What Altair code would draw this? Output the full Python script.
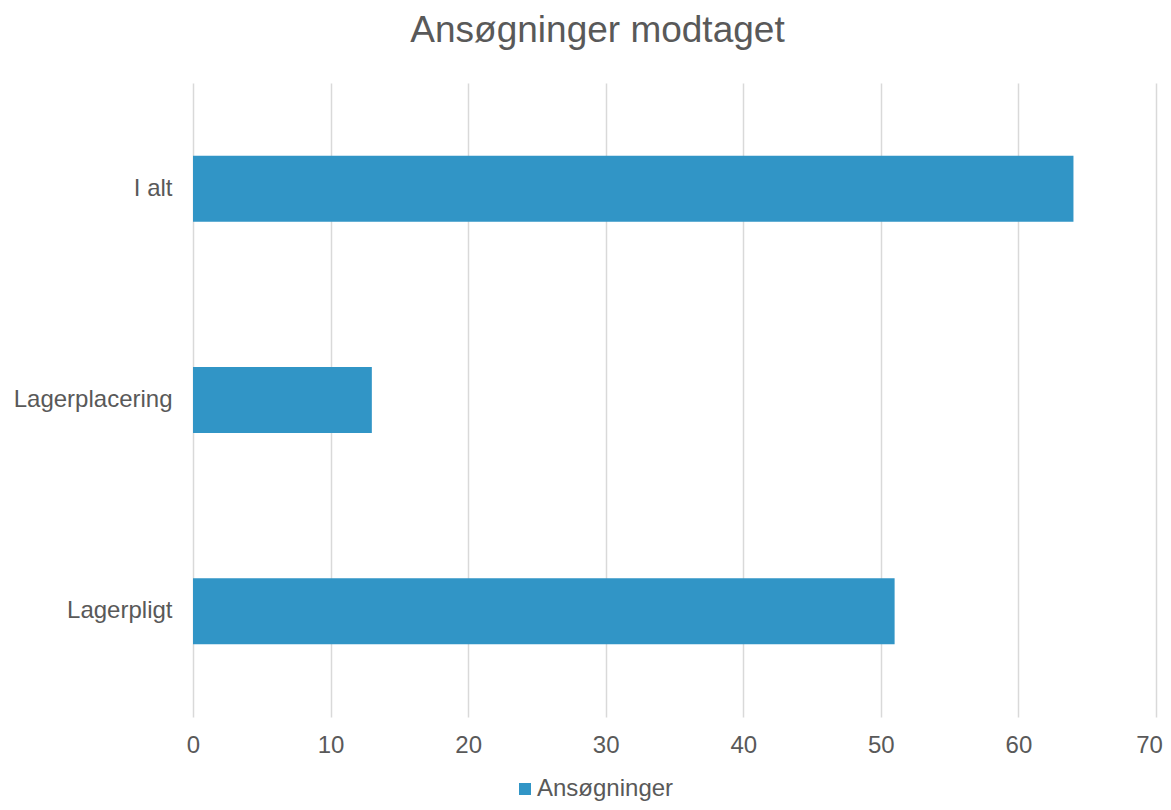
import altair as alt
import pandas as pd

categories = ["I alt", "Lagerplacering", "Lagerpligt"]
values = [64, 13, 51]
series = "Ansøgninger"
x_ticks = [0, 10, 20, 30, 40, 50, 60, 70]

df = pd.DataFrame({"Kategori": categories, "Antal": values, "Serie": [series] * len(categories)})

FONT = "Liberation Sans"
GRAY = "#595959"

chart = alt.Chart(df).mark_bar().encode(
    y=alt.Y("Kategori:N", sort=categories, title=None,
            scale=alt.Scale(paddingInner=0.6877, paddingOuter=0.344),
            axis=alt.Axis(domain=False, ticks=False, labelFontSize=24, labelColor=GRAY,
                          labelFont=FONT, labelPadding=21, grid=False)),
    x=alt.X("Antal:Q", title=None,
            scale=alt.Scale(domain=[0, 70], nice=False),
            axis=alt.Axis(values=x_ticks, domain=False, ticks=False, labelFontSize=24,
                          labelColor=GRAY, labelFont=FONT, labelPadding=16, labelFlush=False,
                          labelOffset={"condition": {"test": "datum.value == 70", "value": -7}, "value": 0},
                          gridColor="#d9d9d9", gridWidth=1.5)),
    color=alt.Color("Serie:N", scale=alt.Scale(range=["#3195C6"]),
                    legend=alt.Legend(title=None, orient="none", legendX=320, legendY=694,
                                      symbolType="square", symbolSize=144,
                                      labelFontSize=24, labelColor=GRAY, labelFont=FONT,
                                      symbolStrokeWidth=0, labelOffset=0)),
).properties(
    width=963, height=634,
    title=alt.TitleParams("Ansøgninger modtaget", fontSize=37, font=FONT, color=GRAY,
                          fontWeight="normal", anchor="middle", dx=-77, offset=4,
                          baseline="alphabetic"),
    autosize=alt.AutoSizeParams(type="none"),
    padding={"left": 185, "top": 75, "right": 7, "bottom": 85},
).configure_view(stroke=None)

chart.save("out.html", embed_options={"renderer": "svg", "actions": False})
